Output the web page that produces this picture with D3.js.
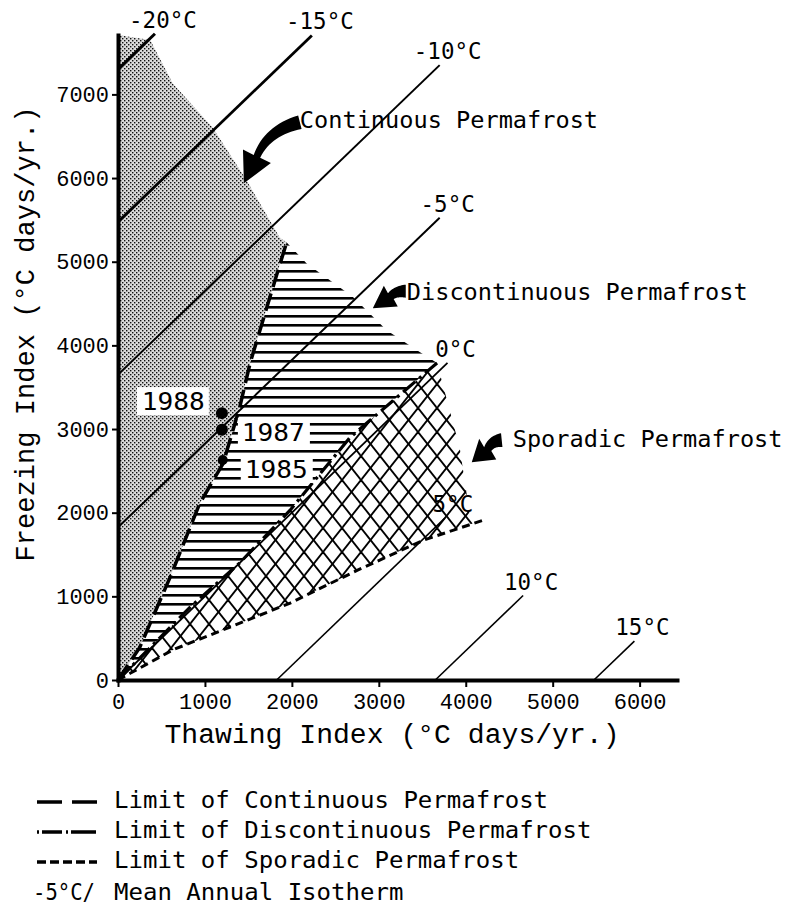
<!DOCTYPE html>
<html>
<head>
<meta charset="utf-8">
<script src="https://cdn.jsdelivr.net/npm/d3@7"></script>
<style>
  html, body { margin: 0; padding: 0; background: #fff; }
  svg { display: block; }
</style>
</head>
<body>
<svg id="chart" width="791" height="915"></svg>
<script>
// values are degree-days per year: [thawing index, freezing index]
const thawTicks = [0, 1000, 2000, 3000, 4000, 5000, 6000];
const freezeTicks = [0, 1000, 2000, 3000, 4000, 5000, 6000, 7000];

// mean annual isotherms: freezing = thawing - 365 * T
const isoTemps = [-20, -15, -10, -5, 0, 5, 10, 15];
const isoEndThaw = [425, 2230, 3700, 3700, 3790, 3760, 4660, 5940];

const continuousLimit = [[0, 0], [250, 390], [600, 1230], [940, 2110], [1210, 2590], [1400, 3260], [1520, 3790], [1830, 4860], [1940, 5230]];
const discontinuousLimit = [[0, 0], [830, 870], [1400, 1400], [1980, 2030], [2670, 2900], [3670, 3790]];
const sporadicLimit = [[0, 0], [140, 80], [630, 360], [1210, 600], [1980, 920], [2750, 1310], [3510, 1670], [4200, 1910]];

// outer edges of the shaded zones
const continuousEdge = [[0, 7710], [370, 7650], [630, 7130], [1090, 6600], [1480, 5970], [1860, 5290], [1940, 5230]];
const discontinuousEdge = [[1940, 5230], [2170, 4980], [2700, 4580], [3090, 4180], [3470, 3920], [3670, 3790]];
const sporadicEdge = [[3670, 3790], [3930, 2780], [4050, 1950], [4080, 1870]];

const years = ["1988", "1987", "1985"];
const yearThaw = [1195, 1195, 1205];
const yearFreeze = [3190, 2990, 2630];

const zoneNames = ["Continuous Permafrost", "Discontinuous Permafrost", "Sporadic Permafrost"];
const legendLabels = ["Limit of Continuous Permafrost", "Limit of Discontinuous Permafrost", "Limit of Sporadic Permafrost", "Mean Annual Isotherm"];

const svg = d3.select("#chart");
const mono = "'Liberation Mono', 'Courier New', monospace";
const sans = "'DejaVu Sans Mono', monospace";

const x = d3.scaleLinear().domain([0, 6430]).range([118, 677]);
const y = d3.scaleLinear().domain([0, 7710]).range([680, 35]);
const line = d3.line().x(d => x(d[0])).y(d => y(d[1]));

// fill patterns
const defs = svg.append("defs");
const stip = defs.append("pattern").attr("id", "stipple")
  .attr("patternUnits", "userSpaceOnUse").attr("width", 4).attr("height", 4);
stip.append("rect").attr("width", 4).attr("height", 4).attr("fill", "#dadada");
stip.append("rect").attr("width", 1.4).attr("height", 1.4).attr("fill", "#111");
stip.append("rect").attr("x", 2).attr("y", 2).attr("width", 1.4).attr("height", 1.4).attr("fill", "#111");

const hatch = defs.append("pattern").attr("id", "hatch")
  .attr("patternUnits", "userSpaceOnUse").attr("width", 10).attr("height", 9);
hatch.append("rect").attr("width", 10).attr("height", 2.6).attr("fill", "#000");

const cw = 19, ch = 24;
const cross = defs.append("pattern").attr("id", "cross")
  .attr("patternUnits", "userSpaceOnUse").attr("width", cw).attr("height", ch);
[-1, 0, 1].forEach(n => {
  cross.append("line").attr("x1", n * cw - cw).attr("y1", -ch).attr("x2", n * cw + 2 * cw).attr("y2", 2 * ch)
    .attr("stroke", "#000").attr("stroke-width", 1.9);
  cross.append("line").attr("x1", n * cw + 2 * cw).attr("y1", -ch).attr("x2", n * cw - cw).attr("y2", 2 * ch)
    .attr("stroke", "#000").attr("stroke-width", 1.9);
});

// zones
const contZone = [[0, 0]].concat(continuousEdge, continuousLimit.slice().reverse());
const discZone = continuousLimit.concat(discontinuousEdge, discontinuousLimit.slice().reverse());
const sporZone = discontinuousLimit.concat(sporadicEdge,
  sporadicLimit.filter(d => d[0] < sporadicEdge[sporadicEdge.length - 1][0]).reverse());

svg.append("path").attr("d", line(contZone) + "Z").attr("fill", "url(#stipple)");
svg.append("path").attr("d", line(discZone) + "Z").attr("fill", "url(#hatch)");
svg.append("path").attr("d", line(sporZone) + "Z").attr("fill", "url(#cross)");

// isotherms
const isoWidth = [3, 2.8, 2, 2, 1.8, 1.6, 1.6, 1.6];
isoTemps.forEach((t, i) => {
  const t0 = Math.max(0, 365 * t);
  const pts = [[t0, t0 - 365 * t], [isoEndThaw[i], isoEndThaw[i] - 365 * t]];
  svg.append("path").attr("d", line(pts)).attr("fill", "none")
    .attr("stroke", "#000").attr("stroke-width", isoWidth[i]);
  svg.append("text")
    .attr("x", x(pts[1][0]) + 8).attr("y", y(pts[1][1]) - 6)
    .attr("text-anchor", "middle")
    .attr("font-family", sans).attr("font-size", 22.5)
    .text(`${t}°C`);
});

// permafrost limits
const limits = [
  { pts: continuousLimit, dash: "18,7", w: 3.5 },
  { pts: discontinuousLimit, dash: "16,5,3,5", w: 3.2 },
  { pts: sporadicLimit, dash: "8,5", w: 3 }
];
limits.forEach(l => {
  svg.append("path").attr("d", line(l.pts)).attr("fill", "none")
    .attr("stroke", "#000").attr("stroke-width", l.w).attr("stroke-dasharray", l.dash);
});

// axes
const yAxis = svg.append("g").attr("transform", `translate(${x(0)},0)`)
  .call(d3.axisLeft(y).tickValues(freezeTicks).tickFormat(d3.format("d"))
    .tickSize(6).tickPadding(3).tickSizeOuter(0));
const xAxis = svg.append("g").attr("transform", `translate(0,${y(0)})`)
  .call(d3.axisBottom(x).tickValues(thawTicks).tickFormat(d3.format("d"))
    .tickSize(7).tickPadding(6).tickSizeOuter(0));
[yAxis, xAxis].forEach(g => {
  g.select(".domain").attr("stroke-width", 4).attr("stroke-linecap", "square");
  g.selectAll(".tick line").attr("stroke-width", 2);
  g.selectAll(".tick text").attr("font-family", mono).attr("font-size", 22).attr("fill", "#000");
});

svg.append("text")
  .attr("x", 392).attr("y", 743)
  .attr("text-anchor", "middle")
  .attr("font-family", mono).attr("font-size", 27)
  .attr("textLength", 455).attr("lengthAdjust", "spacingAndGlyphs")
  .text("Thawing Index (°C days/yr.)");

svg.append("text")
  .attr("transform", "translate(34,334) rotate(-90)")
  .attr("text-anchor", "middle")
  .attr("font-family", mono).attr("font-size", 27)
  .attr("textLength", 455).attr("lengthAdjust", "spacingAndGlyphs")
  .text("Freezing Index (°C days/yr.)");

// observed years
const yearOffsets = [[-17, -12, "end"], [20, 2, "start"], [22, 9, "start"]];
years.forEach((yr, i) => {
  const cx = x(yearThaw[i]), cy = y(yearFreeze[i]);
  const [dx, dy, anchor] = yearOffsets[i];
  const tx = cx + dx, ty = cy + dy;
  const left = anchor === "end" ? tx - 64 : tx;
  svg.append("rect").attr("x", left - 4).attr("y", ty - 14).attr("width", 72).attr("height", 28).attr("fill", "#fff");
  svg.append("text").attr("x", tx).attr("y", ty + 9)
    .attr("text-anchor", anchor)
    .attr("font-family", sans).attr("font-size", 25)
    .attr("textLength", 63).attr("lengthAdjust", "spacingAndGlyphs")
    .text(yr);
});
years.forEach((yr, i) => {
  svg.append("circle").attr("cx", x(yearThaw[i])).attr("cy", y(yearFreeze[i]))
    .attr("r", i === 2 ? 5 : 6).attr("fill", "#000");
});

// curved pointer arrows: tail, control, head base, tip (data units)
const arrows = [
  { pts: [[2092, 6667], [1724, 6571], [1598, 6260], [1448, 5938]], w0: 14, w1: 7, head: 31 },
  { pts: [[3310, 4648], [3195, 4648], [3138, 4588], [2931, 4444]], w0: 13, w1: 8, head: 25 },
  { pts: [[4414, 2867], [4299, 2855], [4253, 2760], [4069, 2604]], w0: 14, w1: 8, head: 27 }
];
function arrowPath(a) {
  const [A, C, B, T] = a.pts.map(p => [x(p[0]), y(p[1])]);
  const left = [], right = [];
  const n = 16;
  for (let i = 0; i <= n; i++) {
    const t = i / n, u = 1 - t;
    const px = u * u * A[0] + 2 * u * t * C[0] + t * t * B[0];
    const py = u * u * A[1] + 2 * u * t * C[1] + t * t * B[1];
    const dx = 2 * u * (C[0] - A[0]) + 2 * t * (B[0] - C[0]);
    const dy = 2 * u * (C[1] - A[1]) + 2 * t * (B[1] - C[1]);
    const L = Math.hypot(dx, dy) || 1;
    const w = (a.w0 + (a.w1 - a.w0) * t) / 2;
    left.push([px - dy / L * w, py + dx / L * w]);
    right.push([px + dy / L * w, py - dx / L * w]);
  }
  const dx = T[0] - B[0], dy = T[1] - B[1], L = Math.hypot(dx, dy), h = a.head / 2;
  const head = [[B[0] - dy / L * h, B[1] + dx / L * h], T, [B[0] + dy / L * h, B[1] - dx / L * h]];
  return "M" + left.concat(head, right.reverse()).map(p => p.join(",")).join("L") + "Z";
}
arrows.forEach(a => svg.append("path").attr("d", arrowPath(a)).attr("fill", "#000"));

// zone names next to arrows
const zoneAt = [[2092, 6595], [3322, 4540], [4540, 2784]];
zoneNames.forEach((name, i) => {
  svg.append("text")
    .attr("x", x(zoneAt[i][0])).attr("y", y(zoneAt[i][1]))
    .attr("font-family", sans).attr("font-size", 23.5)
    .attr("textLength", name.length * 14.2).attr("lengthAdjust", "spacingAndGlyphs")
    .text(name);
});

// legend
const legend = svg.append("g");
const legendY = [808, 838, 868, 900];
const legendDash = ["25,10", "2,3,20,4,2,3,25", "9,4"];
legendLabels.forEach((lab, i) => {
  const by = legendY[i];
  if (i < 3) {
    legend.append("line").attr("x1", 37).attr("x2", 97).attr("y1", by - 6).attr("y2", by - 6)
      .attr("stroke", "#000").attr("stroke-width", 3.3).attr("stroke-dasharray", legendDash[i]);
  } else {
    legend.append("text").attr("x", 33).attr("y", by)
      .attr("font-family", sans).attr("font-size", 23)
      .attr("textLength", 62).attr("lengthAdjust", "spacingAndGlyphs")
      .text("-5°C/");
  }
  legend.append("text").attr("x", 114).attr("y", by)
    .attr("font-family", sans).attr("font-size", 23)
    .attr("textLength", lab.length * 14.47).attr("lengthAdjust", "spacingAndGlyphs")
    .text(lab);
});
</script>
</body>
</html>
